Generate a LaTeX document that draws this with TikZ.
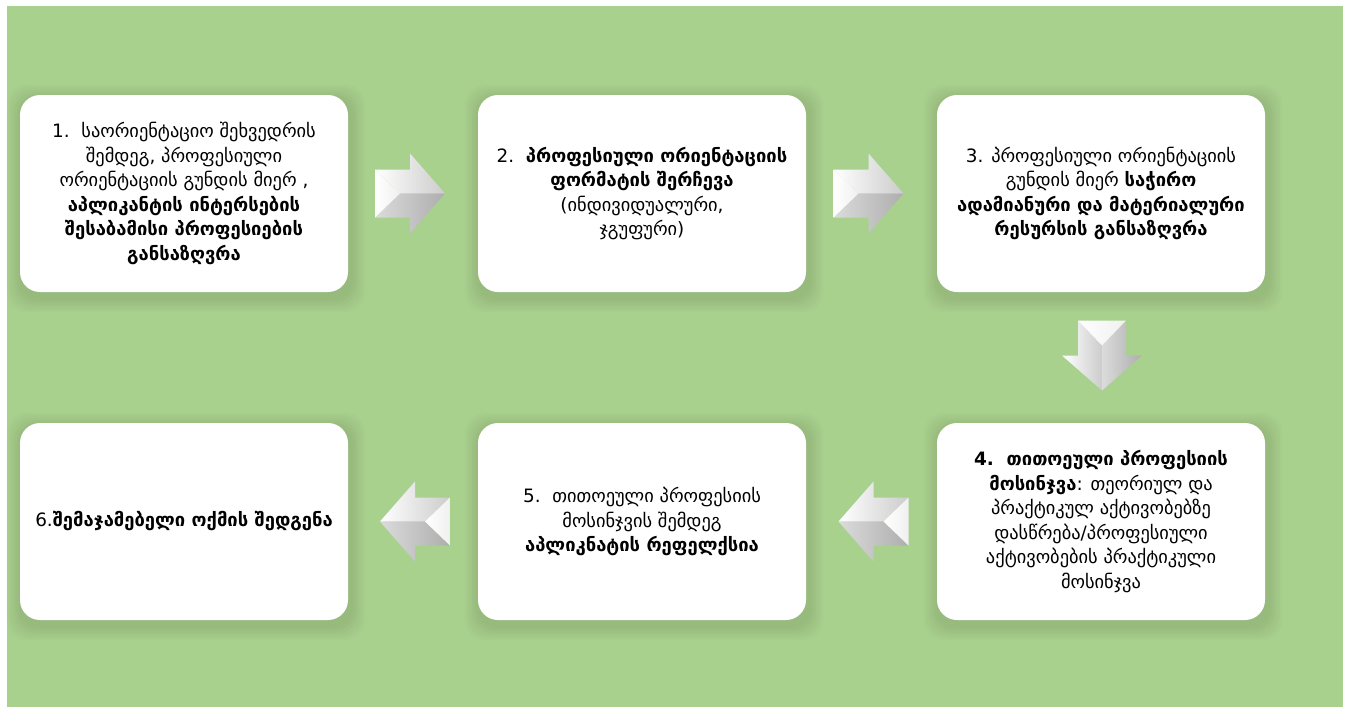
\documentclass[tikz,border=0pt]{standalone}
\usepackage{fontspec}
\setmainfont{DejaVu Sans}
\usetikzlibrary{calc}
\definecolor{bggreen}{HTML}{A9D18E}
\tikzset{
  box/.style={fill=white, rounded corners=15pt, minimum width=246pt, minimum height=147.75pt,
    align=center, inner sep=0pt, font=\fontsize{13.8pt}{18.4pt}\selectfont},
  blockarrow/.pic={
    \shade[left color=white, right color=black!20] (-35,-24)--(0,-24)--(0,-40)--(35,0)--(-10,0)--cycle;
    \shade[left color=black!14, right color=black!32] (-35,24)--(0,24)--(0,40)--(35,0)--(-10,0)--cycle;
    \shade[left color=white, right color=black!6] (-35,-24)--(-10,0)--(-35,24)--cycle;
  }
}
\newcommand{\softshadow}[1]{%
  \foreach \i in {1,...,6}{
    \fill[black!70!bggreen, opacity=0.025, rounded corners=15pt]
      ($(#1.south west)+(2-\i*2.5, 5+\i*2.5)$) rectangle ($(#1.north east)+(2+\i*2.5, 5-\i*2.5)$);
  }}
\begin{document}
\begin{tikzpicture}[x=0.75pt,y=-0.75pt]
\useasboundingbox (0,0) rectangle (1349,707);
\fill[white] (0,0) rectangle (1349,707);
\fill[bggreen] (7,6) rectangle (1343,707);

% invisible placement for shadows
\path (184,193.5) node[box,fill=none] (s1) {} (642,193.5) node[box,fill=none] (s2) {}
      (1101,193.5) node[box,fill=none] (s3) {} (1101,521.5) node[box,fill=none] (s4) {}
      (642,521.5) node[box,fill=none] (s5) {} (184,521.5) node[box,fill=none] (s6) {};
\softshadow{s1}\softshadow{s2}\softshadow{s3}\softshadow{s4}\softshadow{s5}\softshadow{s6}

\node[box] (b1) at (184,193.5) {1.\ \ საორიენტაციო შეხვედრის\\შემდეგ, პროფესიული\\ორიენტაციის გუნდის მიერ ,\\\textbf{აპლიკანტის ინტერსების}\\\textbf{შესაბამისი პროფესიების}\\\textbf{განსაზღვრა}};
\node[box] (b2) at (642,193.5) {2.\ \ \textbf{პროფესიული ორიენტაციის}\\\textbf{ფორმატის შერჩევა}\\(ინდივიდუალური,\\ჯგუფური)};
\node[box] (b3) at (1101,193.5) {3. პროფესიული ორიენტაციის\\გუნდის მიერ \textbf{საჭირო}\\\textbf{ადამიანური და მატერიალური}\\\textbf{რესურსის განსაზღვრა}};
\node[box] (b4) at (1101,521.5) {\textbf{4.\ \ თითოეული პროფესიის}\\\textbf{მოსინჯვა}: თეორიულ და\\პრაქტიკულ აქტივობებზე\\დასწრება/პროფესიული\\აქტივობების პრაქტიკული\\მოსინჯვა};
\node[box] (b5) at (642,521.5) {5.\ \ თითოეული პროფესიის\\მოსინჯვის შემდეგ\\\textbf{აპლიკნატის რეფელქსია}};
\node[box] (b6) at (184,521.5) {6.\textbf{შემაჯამებელი ოქმის შედგენა}};

\coordinate (a1) at ($($(b1.east)!0.5!(b2.west)$)+(-3,0)$);
\coordinate (a2) at ($($(b2.east)!0.5!(b3.west)$)+(-3,0)$);
\coordinate (a3) at ($($(b3.south)!0.5!(b4.north)$)+(1,-2)$);
\coordinate (a4) at ($($(b4.west)!0.5!(b5.east)$)+(2,0)$);
\coordinate (a5) at ($($(b5.west)!0.5!(b6.east)$)+(2,0)$);
\pic at (a1) {blockarrow};
\pic at (a2) {blockarrow};
\pic[cm={0,-1,-1,0,(0,0)}] at (a3) {blockarrow};
\pic[xscale=-1] at (a4) {blockarrow};
\pic[xscale=-1] at (a5) {blockarrow};
\end{tikzpicture}
\end{document}
